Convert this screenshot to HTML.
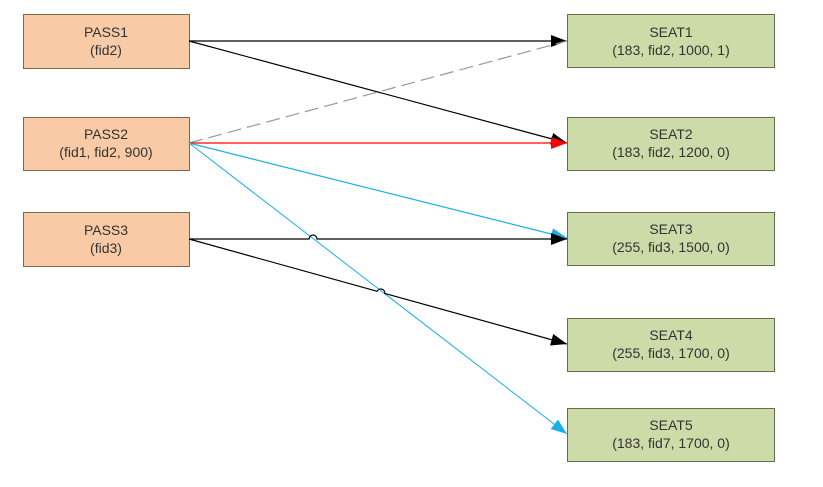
<!DOCTYPE html>
<html><head><meta charset="utf-8"><style>
body{margin:0;background:#fff;width:823px;height:482px;overflow:hidden}
svg text{font-family:"Liberation Sans",sans-serif;font-size:14px;fill:#333;text-anchor:middle}
</style></head><body>
<svg width="823" height="482" viewBox="0 0 823 482" xmlns="http://www.w3.org/2000/svg">
<defs>
<marker id="ab" markerWidth="16" markerHeight="12" refX="16" refY="6" orient="auto" markerUnits="userSpaceOnUse"><path d="M0,0 L16,6 L0,12 Z" fill="#000"/></marker>
<marker id="ar" markerWidth="16" markerHeight="12" refX="16" refY="6" orient="auto" markerUnits="userSpaceOnUse"><path d="M0,0 L16,6 L0,12 Z" fill="#f00"/></marker>
<marker id="ac" markerWidth="16" markerHeight="12" refX="16" refY="6" orient="auto" markerUnits="userSpaceOnUse"><path d="M0,0 L16,6 L0,12 Z" fill="#19b0e6"/></marker>
</defs>
<g fill="#f8cba6" stroke="#7a6a4a" stroke-width="1">
<rect x="23.5" y="14.5" width="166" height="54"/>
<rect x="23.5" y="117.5" width="166" height="53"/>
<rect x="23.5" y="212.5" width="166" height="54"/>
</g>
<g fill="#cddba8" stroke="#5f6f4f" stroke-width="1">
<rect x="567.5" y="14.5" width="207" height="53"/>
<rect x="567.5" y="117.5" width="207" height="53"/>
<rect x="567.5" y="212.5" width="207" height="53"/>
<rect x="567.5" y="318.5" width="207" height="53"/>
<rect x="567.5" y="408.5" width="207" height="53"/>
</g>
<g fill="none" stroke-width="1.2">
<line x1="189" y1="41" x2="567" y2="41" stroke="#000" marker-end="url(#ab)"/>
<line x1="189" y1="41" x2="567" y2="143" stroke="#000" marker-end="url(#ab)"/>
<line x1="189" y1="143" x2="567" y2="41" stroke="#999" stroke-dasharray="14,6"/>
<line x1="189" y1="143" x2="567" y2="143" stroke="#f00" marker-end="url(#ar)"/>
<line x1="189" y1="143" x2="567" y2="238" stroke="#19b0e6" marker-end="url(#ac)"/>
<line x1="189" y1="143" x2="567" y2="434" stroke="#19b0e6" stroke-width="1" marker-end="url(#ac)"/>
<path d="M189 239 L309 239 A4 4 0 0 1 317 239 L567 239" stroke="#000" marker-end="url(#ab)"/>
<path d="M189 239 L377.2 291.3 A4 4 0 0 1 384.8 293.4 L567 344" stroke="#000" marker-end="url(#ab)"/>
</g>
<text x="106" y="37">PASS1</text><text x="106" y="55">(fid2)</text>
<text x="106" y="139">PASS2</text><text x="106" y="157">(fid1, fid2, 900)</text>
<text x="106" y="235">PASS3</text><text x="106" y="253">(fid3)</text>
<text x="671" y="37">SEAT1</text><text x="671" y="55">(183, fid2, 1000, 1)</text>
<text x="671" y="139">SEAT2</text><text x="671" y="157">(183, fid2, 1200, 0)</text>
<text x="671" y="234">SEAT3</text><text x="671" y="252">(255, fid3, 1500, 0)</text>
<text x="671" y="340">SEAT4</text><text x="671" y="358">(255, fid3, 1700, 0)</text>
<text x="671" y="430">SEAT5</text><text x="671" y="448">(183, fid7, 1700, 0)</text>
</svg>
</body></html>
